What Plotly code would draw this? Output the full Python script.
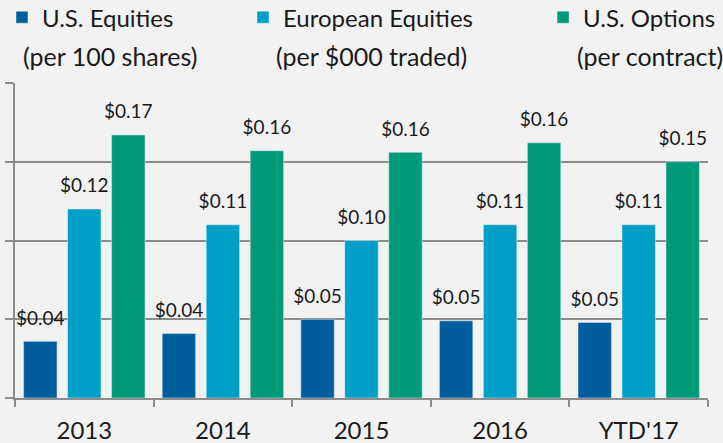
import plotly.graph_objects as go

years = ["2013", "2014", "2015", "2016", "YTD'17"]
us_equities = [0.036, 0.041, 0.050, 0.049, 0.048]
european_equities = [0.120, 0.110, 0.100, 0.110, 0.110]
us_options = [0.167, 0.157, 0.156, 0.162, 0.150]

series_names = ["U.S. Equities", "European Equities", "U.S. Options"]
series_units = ["(per 100 shares)", "(per $000 traded)", "(per contract)"]
colors = ["#005e9c", "#00a0c6", "#009a78"]

FONT = "Lato, 'Open Sans', sans-serif"
legends = ["legend", "legend2", "legend3"]

fig = go.Figure()
for name, vals, color, lg in zip(
    series_names, [us_equities, european_equities, us_options], colors, legends
):
    fig.add_trace(
        go.Bar(
            x=years,
            y=vals,
            name=name,
            marker_color=color,
            # small second line keeps a gap between label and bar top
            texttemplate="<span style='font-size:19px'>$%{y:.2f}</span><br> ",
            textposition="outside",
            constraintext="none",
            textfont=dict(size=9, color="#1a1a1a", family=FONT),
            cliponaxis=False,
            legend=lg,
            showlegend=True,
        )
    )

legend_style = dict(
    orientation="h",
    yanchor="top",
    y=1.279,
    xanchor="left",
    bgcolor="rgba(0,0,0,0)",
    font=dict(size=24, color="#1a1a1a", family=FONT),
)
fig.update_layout(
    showlegend=True,
    legend=dict(x=-0.0188, **legend_style),
    legend2=dict(x=0.329, **legend_style),
    legend3=dict(x=0.762, **legend_style),
)

# second line of each legend entry
for xpos, unit in zip([0.0087, 0.374, 0.808], series_units):
    fig.add_annotation(
        x=xpos, y=1.085, xref="paper", yref="paper",
        xanchor="left", yanchor="middle", showarrow=False,
        text=unit, font=dict(size=25, color="#1a1a1a", family=FONT),
    )

fig.update_layout(
    width=723,
    height=443,
    margin=dict(l=15, r=15, t=83, b=45, autoexpand=False),
    paper_bgcolor="#f2f2f2",
    plot_bgcolor="#f2f2f2",
    barmode="group",
    bargap=0.048,
    bargroupgap=0.24,
    font=dict(family=FONT, color="#1a1a1a"),
    xaxis=dict(
        showline=True,
        linecolor="#8c8c8c",
        linewidth=2,
        ticks="outside",
        tickson="boundaries",
        ticklen=7,
        tickwidth=2,
        tickcolor="#8c8c8c",
        ticklabelstandoff=10,
        tickfont=dict(size=24, family=FONT, color="#1a1a1a"),
        showgrid=False,
    ),
    yaxis=dict(
        range=[0, 0.2],
        dtick=0.05,
        showticklabels=False,
        showline=True,
        linecolor="#8c8c8c",
        linewidth=2,
        ticks="outside",
        ticklen=8,
        tickwidth=2,
        tickcolor="#8c8c8c",
        showgrid=True,
        gridcolor="#8c8c8c",
        gridwidth=2,
        zeroline=False,
    ),
)

fig.write_html(
    "out.html",
    config={"displayModeBar": False},
    post_script="document.body.style.margin='0px';",
)
